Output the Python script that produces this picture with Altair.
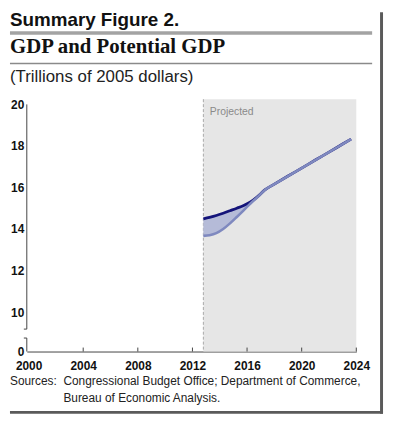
import altair as alt
import pandas as pd

# ---------------- text ----------------
KICKER = "Summary Figure 2."
TITLE = "GDP and Potential GDP"
SUBTITLE = "(Trillions of 2005 dollars)"
SOURCE_LABEL = "Sources:"
SOURCE_LINES = ["Congressional Budget Office; Department of Commerce,",
                "Bureau of Economic Analysis."]
PROJECTED_LABEL = "Projected"

# ---------------- data ----------------
YEARS = [2012.8, 2013.25, 2013.75, 2014.25, 2014.75, 2015.25, 2015.75, 2016.25,
         2016.75, 2017.3, 2018, 2019, 2020, 2021, 2022, 2023, 2023.62]
POTENTIAL_GDP = [14.49, 14.56, 14.65, 14.76, 14.88, 15.00, 15.13, 15.30,
                 15.55, 15.88, 16.16, 16.55, 16.93, 17.32, 17.70, 18.09, 18.33]
GDP = [13.67, 13.70, 13.80, 14.00, 14.27, 14.58, 14.90, 15.23,
       15.53, 15.88, 16.16, 16.55, 16.93, 17.32, 17.70, 18.09, 18.33]

PROJECTION_START = 2012.8
PROJECTION_END = 2024
X_DOMAIN = [1999.87, 2024]
Y_DOMAIN = [8.1, 20.25]
X_TICKS = [2000, 2004, 2008, 2012, 2016, 2020, 2024]
Y_TICKS = [8.1, 10, 12, 14, 16, 18, 20]
Y_AXIS_LOW = [8.1, 8.75]      # segment below the axis break
Y_AXIS_HIGH = [9.18, 20.0]    # segment above the axis break

W, H = 333, 255
AX = "#444444"

series = pd.DataFrame({"year": YEARS, "potential": POTENTIAL_GDP, "gdp": GDP})
proj = pd.DataFrame({"start": [PROJECTION_START], "end": [PROJECTION_END],
                     "label": [PROJECTED_LABEL]})
yseg = pd.DataFrame({"lo": [Y_AXIS_LOW[0], Y_AXIS_HIGH[0]],
                     "hi": [Y_AXIS_LOW[1], Y_AXIS_HIGH[1]]})
ybreak = pd.DataFrame({"v": [Y_AXIS_LOW[1], Y_AXIS_HIGH[0]]})
xticks = pd.DataFrame({"year": X_TICKS[1:]})

xscale = alt.Scale(domain=X_DOMAIN, nice=False, zero=False)
yscale = alt.Scale(domain=Y_DOMAIN, nice=False, zero=False)
xaxis = alt.Axis(values=X_TICKS, format="d", title=None, grid=False, ticks=False,
                 domainColor=AX, domainWidth=1, labelFont="Liberation Sans",
                 labelFontWeight="bold", labelFontSize=12, labelColor="#111111",
                 labelPadding=9, labelFlush=False)
yaxis = alt.Axis(values=Y_TICKS, title=None, grid=False, ticks=False, domain=False,
                 labelFont="Liberation Sans", labelFontWeight="bold",
                 labelFontSize=12, labelColor="#111111", labelPadding=3,
                 labelFlush=False, labelOverlap=False,
                 labelExpr="datum.value < 9 ? '0' : datum.label")


def xq(f):
    return alt.X(f"{f}:Q", scale=xscale, axis=xaxis)


def yq(f):
    return alt.Y(f"{f}:Q", scale=yscale, axis=yaxis)


shade = alt.Chart(proj).mark_rect(color="#e6e6e6").encode(
    x=xq("start"), x2="end:Q", y=alt.value(0), y2=alt.value(H))
divider = alt.Chart(proj).mark_rule(color="#a8a8a8", strokeDash=[3, 2], strokeWidth=1).encode(
    x=xq("start"), y=alt.value(0), y2=alt.value(H))
proj_text = alt.Chart(proj).mark_text(align="left", baseline="alphabetic", dx=6.5,
                                      font="Liberation Sans", fontSize=10.5,
                                      color="#8a8a8a").encode(
    x=xq("start"), y=alt.value(16), text="label:N")

gap = alt.Chart(series).mark_area(color="#b5bbd8", interpolate="monotone").encode(
    x=xq("year"), y=yq("gdp"), y2="potential:Q")
pot_line = alt.Chart(series).mark_line(color="#14147a", strokeWidth=2.8,
                                       interpolate="monotone").encode(
    x=xq("year"), y=yq("potential"))
gdp_line = alt.Chart(series).mark_line(color="#7f89bf", strokeWidth=2.6,
                                       interpolate="monotone").encode(
    x=xq("year"), y=yq("gdp"))

y_domain = alt.Chart(yseg).mark_rule(color=AX, strokeWidth=1).encode(
    x=alt.value(0), y=yq("lo"), y2="hi:Q")
y_breaks = alt.Chart(ybreak).mark_rule(color=AX, strokeWidth=1).encode(
    x=alt.value(-3), x2=alt.value(0), y=yq("v"))
x_inner_ticks = alt.Chart(xticks).mark_rule(color=AX, strokeWidth=1).encode(
    x=xq("year"), y=alt.value(H), y2=alt.value(H - 4))

# ---------------- decorations (header, sources, frame) ----------------
def text_layer(txt, x, y, **kw):
    return alt.Chart(pd.DataFrame({"t": [txt]})).mark_text(
        align="left", baseline="alphabetic", **kw).encode(
        x=alt.value(x), y=alt.value(y), text="t:N")


def hrule(x1, x2, y, **kw):
    return alt.Chart(pd.DataFrame({"k": [0]})).mark_rule(**kw).encode(
        x=alt.value(x1), x2=alt.value(x2), y=alt.value(y))


def vrule(x, y1, y2, **kw):
    return alt.Chart(pd.DataFrame({"k": [0]})).mark_rule(**kw).encode(
        x=alt.value(x), y=alt.value(y1), y2=alt.value(y2))


L = -17
R = 358.5
kicker = text_layer(KICKER, L, -74, font="Liberation Sans", fontSize=19,
                    fontWeight="bold", color="#111111")
title = text_layer(TITLE, L, -47, font="Liberation Serif", fontSize=21,
                   fontWeight="bold", color="#111111")
subtitle = text_layer(SUBTITLE, L, -17, font="Liberation Sans", fontSize=17,
                      color="#222222")
thick = hrule(L, 349, -67, color="#a3a3a3", strokeWidth=3.5)
thin = hrule(L, 349, -36, color="#8a8a8a", strokeWidth=1.5)
src_label = text_layer(SOURCE_LABEL, L, 289, font="Liberation Sans", fontSize=12,
                       color="#222222")
src1 = text_layer(SOURCE_LINES[0], 37, 289, font="Liberation Sans", fontSize=12,
                  color="#222222")
src2 = text_layer(SOURCE_LINES[1], 37, 306, font="Liberation Sans", fontSize=12,
                  color="#222222")
frame_r = vrule(R, -88, 318, color="#5a5a5a", strokeWidth=3)
frame_b = hrule(L, R + 1.5, 316.5, color="#5a5a5a", strokeWidth=3)

chart = alt.layer(
    shade, divider, gap, pot_line, gdp_line, proj_text,
    y_domain, y_breaks, x_inner_ticks,
    kicker, thick, title, thin, subtitle, src_label, src1, src2, frame_r, frame_b,
).properties(width=W, height=H, padding=0, background="white").configure_view(stroke=None)

chart.save("out.html", embed_options={"renderer": "svg", "actions": False})
